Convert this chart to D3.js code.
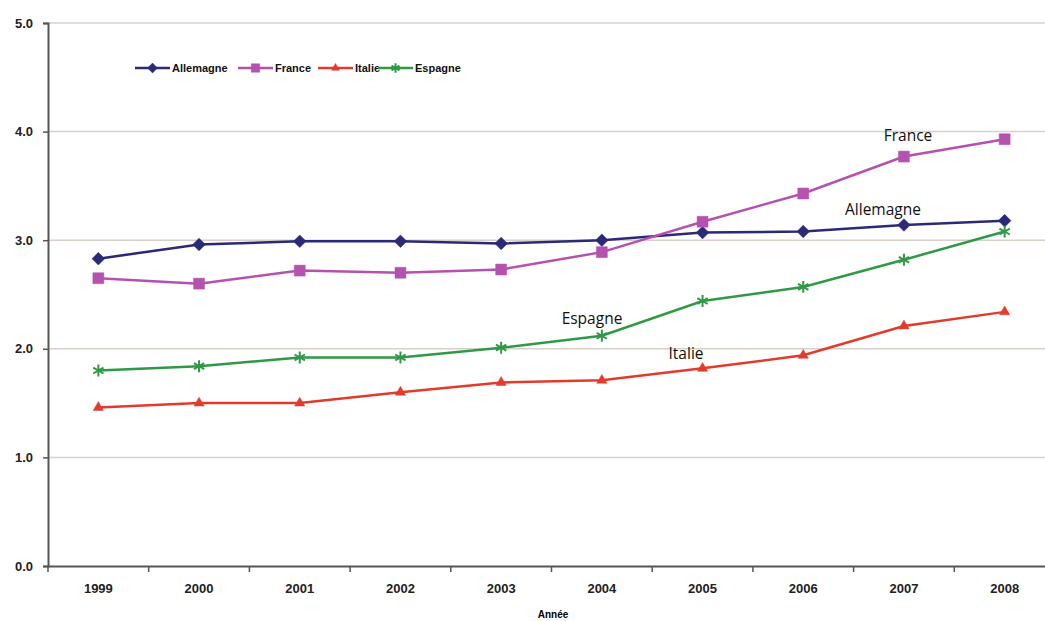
<!DOCTYPE html>
<html>
<head>
<meta charset="utf-8">
<script src="https://cdn.jsdelivr.net/npm/d3@7"></script>
<style>
  body { margin: 0; background: #fff; }
  svg { display: block; }
</style>
</head>
<body>
<div id="chart"></div>
<script>
// Data
const years = ["1999", "2000", "2001", "2002", "2003", "2004", "2005", "2006", "2007", "2008"];
const allemagne = [2.83, 2.96, 2.99, 2.99, 2.97, 3.00, 3.07, 3.08, 3.14, 3.18];
const france = [2.65, 2.60, 2.72, 2.70, 2.73, 2.89, 3.17, 3.43, 3.77, 3.93];
const italie = [1.46, 1.50, 1.50, 1.60, 1.69, 1.71, 1.82, 1.94, 2.21, 2.34];
const espagne = [1.80, 1.84, 1.92, 1.92, 2.01, 2.12, 2.44, 2.57, 2.82, 3.08];
const yTicks = [0, 1, 2, 3, 4, 5];

const series = [
    { name: "Allemagne", values: allemagne, color: "#2b2a78", symbol: "diamond", size: 80, label: { x: 883, y: 215 } },
    { name: "France", values: france, color: "#b552b0", symbol: "square", size: 120, label: { x: 908, y: 141 } },
    { name: "Italie", values: italie, color: "#e23b2c", symbol: "triangle", size: 45, label: { x: 686, y: 359 } },
    { name: "Espagne", values: espagne, color: "#2f9a45", symbol: "asterisk", size: 100, label: { x: 592, y: 324 } }
];

const width = 1045, height = 621;
const tickFont = "'Liberation Sans Narrow', 'Liberation Sans', sans-serif";

const svg = d3.select("#chart")
    .append("svg")
    .attr("width", width)
    .attr("height", height);

// Set up scales
const xScale = d3.scaleBand()
    .domain(years)
    .range([48, 1055]);

const yScale = d3.scaleLinear()
    .domain([0, 5])
    .range([566, 23]);

// Gridlines
svg.append("g")
    .selectAll("line")
    .data(yTicks.filter(d => d > 0))
    .enter()
    .append("line")
    .attr("x1", 48)
    .attr("x2", width)
    .attr("y1", d => yScale(d))
    .attr("y2", d => yScale(d))
    .attr("stroke", "#d9d0ca")
    .attr("stroke-width", 1.5);

// Y axis
const yAxis = svg.append("g")
    .attr("transform", "translate(48,0)")
    .call(d3.axisLeft(yScale).tickValues(yTicks).tickFormat(d3.format(".1f")).tickSize(5).tickPadding(10));
yAxis.select(".domain").attr("stroke", "#555").attr("stroke-width", 2);
yAxis.selectAll(".tick line").attr("stroke", "#555").attr("stroke-width", 1.5);
yAxis.selectAll("text")
    .style("font-family", tickFont)
    .style("font-weight", "bold")
    .style("font-size", "13px")
    .attr("fill", "#222");

// X axis
const xAxis = svg.append("g")
    .attr("transform", "translate(0,566)")
    .call(d3.axisBottom(xScale).tickSize(0).tickPadding(18));
xAxis.select(".domain").attr("stroke", "#555").attr("stroke-width", 2);
xAxis.selectAll("text")
    .style("font-family", tickFont)
    .style("font-weight", "bold")
    .style("font-size", "13px")
    .attr("fill", "#222");

// tick marks between categories
svg.append("g")
    .selectAll("line")
    .data(years)
    .enter()
    .append("line")
    .attr("x1", d => xScale(d))
    .attr("x2", d => xScale(d))
    .attr("y1", 566)
    .attr("y2", 572)
    .attr("stroke", "#555")
    .attr("stroke-width", 1.5);

// X axis label
svg.append("text")
    .attr("x", 553)
    .attr("y", 618)
    .attr("text-anchor", "middle")
    .style("font-family", tickFont)
    .style("font-weight", "bold")
    .style("font-size", "10px")
    .text("Année");

const line = d3.line()
    .x((d, i) => xScale(years[i]) + xScale.bandwidth() / 2)
    .y(d => yScale(d));

function drawMarker(g, s, x, y, size) {
    let type = d3.symbolSquare, rot = 0, stroke = false;
    if (s.symbol === "diamond") { rot = 45; }
    if (s.symbol === "triangle") { type = d3.symbolTriangle; }
    if (s.symbol === "asterisk") { type = d3.symbolAsterisk; stroke = true; }
    g.append("path")
        .attr("d", d3.symbol().type(type).size(size)())
        .attr("transform", "translate(" + x + "," + y + ") rotate(" + rot + ")")
        .attr("fill", stroke ? "none" : s.color)
        .attr("stroke", s.color)
        .attr("stroke-width", stroke ? 2 : 0.5);
}

// Lines and markers
series.forEach(s => {
    const g = svg.append("g");
    g.append("path")
        .datum(s.values)
        .attr("d", line)
        .attr("fill", "none")
        .attr("stroke", s.color)
        .attr("stroke-width", 2.5);
    s.values.forEach((v, i) => {
        drawMarker(g, s, xScale(years[i]) + xScale.bandwidth() / 2, yScale(v), s.size);
    });
    // Annotation labels
    svg.append("text")
        .attr("x", s.label.x)
        .attr("y", s.label.y)
        .attr("text-anchor", "middle")
        .style("font-family", "'Open Sans', sans-serif")
        .style("font-size", "15.5px")
        .style("font-weight", 500)
        .attr("fill", "#111")
        .text(s.name);
});

// Legend
const legendX = [135, 238, 318, 378];
const legend = svg.append("g");
series.forEach((s, i) => {
    const x0 = legendX[i];
    legend.append("line")
        .attr("x1", x0)
        .attr("x2", x0 + 35)
        .attr("y1", 68)
        .attr("y2", 68)
        .attr("stroke", s.color)
        .attr("stroke-width", 2.5);
    drawMarker(legend, s, x0 + 17.5, 68, s.size * 0.6);
    legend.append("text")
        .attr("x", x0 + 37)
        .attr("y", 72)
        .style("font-family", tickFont)
        .style("font-weight", "bold")
        .style("font-size", "11px")
        .attr("fill", "#111")
        .text(s.name);
});
</script>
</body>
</html>
